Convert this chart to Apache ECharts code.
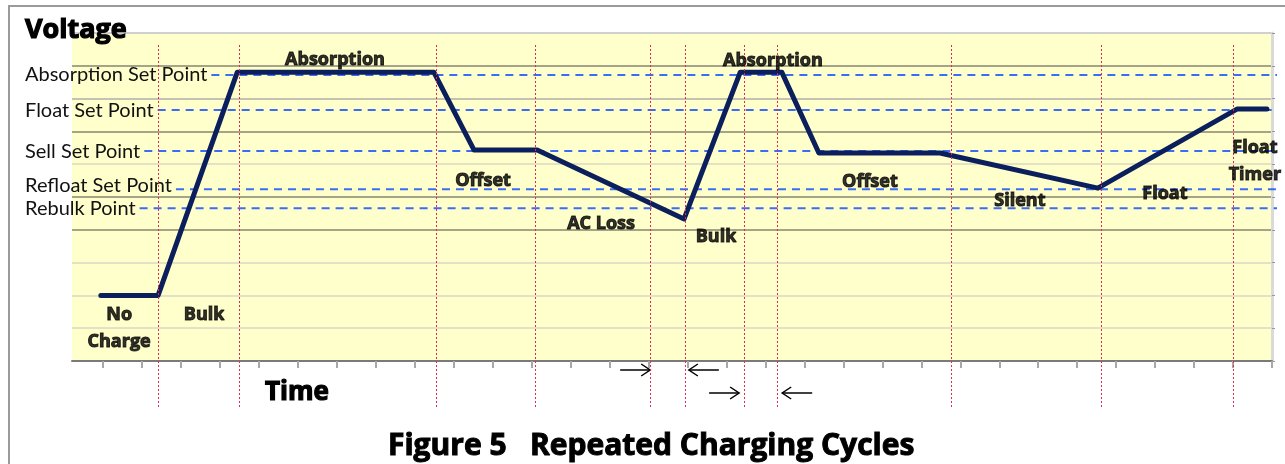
<!DOCTYPE html>
<html>
<head>
<meta charset="utf-8">
<script src="https://cdn.jsdelivr.net/npm/echarts@6/dist/echarts.min.js"></script>
<style>
  html, body { margin: 0; padding: 0; background: #fff; }
  #chart { width: 1285px; height: 464px; }
</style>
</head>
<body>
<div id="chart"></div>
<script>
// voltage trace: x in tick units, y in grid-line units
const timeX = [-0.06, 1.41, 3.44, 8.49, 9.52, 11.14, 14.91, 16.35, 17.42, 18.37, 21.48, 25.53, 29.10, 29.87]
const voltY = [2.0, 2.0, 8.8, 8.8, 6.43, 6.43, 4.33, 8.8, 8.8, 6.34, 6.34, 5.27, 7.68, 7.68]

const setPointNames = ['Absorption Set Point', 'Float Set Point', 'Sell Set Point', 'Refloat Set Point', 'Rebulk Point']
const setPointLevels = [8.72, 7.65, 6.40, 5.24, 4.66]

const phaseNames = ['No\nCharge', 'Bulk', 'Absorption', 'Offset', 'AC Loss', 'Bulk', 'Absorption', 'Offset', 'Silent', 'Float', 'Float\nTimer']
const phaseX = [0.41, 2.59, 5.95, 9.75, 12.78, 15.73, 17.19, 19.68, 23.53, 27.25, 29.56]
const phaseY = [0.98, 1.40, 9.18, 5.49, 4.18, 3.78, 9.15, 5.46, 4.88, 5.09, 6.10]

const markerTimes = [1.41, 3.49, 8.54, 11.08, 14.04, 14.93, 16.45, 17.30, 21.76, 25.61, 29.00]
const tickTimes = [0, 1, 2, 3, 4, 5, 6, 7, 8, 9, 10, 11, 12, 13, 14, 15, 16, 17, 18, 19, 20, 21, 22, 23, 24, 25, 26, 27, 28, 29, 30]

// [marker index, direction, row]
const arrowMarks = [[4, 1, 0], [5, -1, 0], [6, 1, 1], [7, -1, 1]]

const FONT = 'Lato, "Open Sans", sans-serif'
const BOLD_FONT = '"Open Sans", Lato, sans-serif'
const LABEL_SIZE = 20

const chart = echarts.init(document.getElementById('chart'), null, { renderer: 'canvas' })

const measureCtx = document.createElement('canvas').getContext('2d')
function textWidth(text, size) {
  measureCtx.font = size + 'px ' + FONT
  return measureCtx.measureText(text).width
}

const gridLineColors = ['#888', '#e4e2c6', '#e4e2c6', '#e4e2c6', '#a6a486', '#a6a486', '#e4e2c6', '#a6a486', '#c4c2b0', '#a6a486', '#cfcfcf']

const heavy = (size, stroke) => ({
  fontFamily: BOLD_FONT, fontSize: size, fontWeight: 'bold', color: '#000',
  textBorderColor: '#000', textBorderWidth: stroke,
})

const setPointSeries = setPointNames.map((name, i) => {
  const start = textWidth(name, LABEL_SIZE) + 4
  return {
    type: 'line',
    xAxisIndex: 1,
    yAxisIndex: 2,
    symbol: 'circle',
    symbolSize: 0,
    silent: true,
    z: 2,
    lineStyle: { color: '#3a6cf4', width: 2, type: [8, 6] },
    data: [
      {
        value: [start, setPointLevels[i]],
        label: {
          show: true,
          position: 'left',
          distance: 4,
          formatter: name,
          fontFamily: FONT,
          fontSize: LABEL_SIZE,
          color: '#111',
          offset: [0, i === 3 ? -4 : 0],
        },
      },
      { value: [1252, setPointLevels[i]] },
    ],
  }
})

chart.setOption({
  animation: false,
  backgroundColor: '#fff',
  title: [
    { text: 'Voltage', left: 25, top: 17, padding: 0, textStyle: heavy(27, 1.2) },
    { text: 'Time', left: 265, top: 380, padding: 0, textStyle: heavy(26, 1.2) },
    { text: 'Figure 5   Repeated Charging Cycles', left: 388, top: 431, padding: 0, textStyle: heavy(30, 1) },
  ],
  grid: [
    { left: 72, right: 13, top: 33, bottom: 103, show: true, backgroundColor: '#ffffcc', borderWidth: 0 },
    { left: 25, right: 8, top: 33, bottom: 103 },
    { left: 72, right: 13, top: 45, bottom: 57 },
  ],
  xAxis: [
    {
      gridIndex: 0, type: 'value', min: -0.8, max: 30,
      axisLine: { lineStyle: { color: '#7a7a7a', width: 2 } },
      axisTick: { show: true, customValues: tickTimes, length: 7, lineStyle: { color: '#a8a8a8', width: 2 } },
      axisLabel: { show: false },
      splitLine: { show: false },
    },
    { gridIndex: 1, type: 'value', min: 0, max: 1252, show: false },
    { gridIndex: 2, type: 'value', min: -0.8, max: 30, show: false },
  ],
  yAxis: [
    {
      gridIndex: 0, type: 'value', min: 0, max: 10, interval: 1,
      axisLine: { show: false }, axisTick: { show: false }, axisLabel: { show: false },
      splitLine: { show: true, lineStyle: { color: gridLineColors, width: 2 } },
    },
    {
      gridIndex: 0, type: 'value', position: 'right', min: 0, max: 10, interval: 1,
      axisLine: { show: true, lineStyle: { color: '#dadada', width: 3 } },
      axisTick: { show: true, length: 3, lineStyle: { color: '#999' } },
      axisLabel: { show: false }, splitLine: { show: false },
    },
    { gridIndex: 1, type: 'value', min: 0, max: 10, show: false },
    { gridIndex: 2, type: 'value', min: 0, max: 1, show: false },
  ],
  series: [
    ...setPointSeries,
    {
      type: 'line',
      xAxisIndex: 2,
      yAxisIndex: 3,
      data: [],
      silent: true,
      z: 4,
      markLine: {
        silent: true,
        symbol: 'none',
        label: { show: false },
        lineStyle: { color: '#ec2452', width: 1, type: [2, 2] },
        data: markerTimes.map(v => ({ xAxis: v })),
      },
    },
    {
      type: 'line',
      xAxisIndex: 0,
      yAxisIndex: 0,
      data: timeX.map((x, i) => [x, voltY[i]]),
      showSymbol: false,
      symbol: 'none',
      z: 3,
      lineStyle: { color: '#0b1f5c', width: 5, cap: 'round', join: 'round' },
    },
    {
      type: 'scatter',
      xAxisIndex: 0,
      yAxisIndex: 0,
      symbolSize: 0,
      silent: true,
      z: 6,
      data: phaseNames.map((n, i) => ({ name: n, value: [phaseX[i], phaseY[i]] })),
      label: {
        show: true,
        position: 'inside',
        formatter: p => p.name,
        ...heavy(18, 1),
        lineHeight: 27,
        align: 'center',
        verticalAlign: 'middle',
      },
    },
  ],
})

// frame and the dimension arrows under the axis
const graphics = [
  { type: 'rect', shape: { x: 9, y: 6, width: 1400, height: 600 }, style: { fill: null, stroke: '#9a9a9a', lineWidth: 2 }, z: 10 },
]
const arrowGap = [0, 4, 5, 5]
arrowMarks.forEach(([mi, dir, row], k) => {
  const px = chart.convertToPixel({ xAxisIndex: 0 }, markerTimes[mi])
  const y = 370 + row * 23
  const head = px - dir * arrowGap[k]
  const tail = head - dir * 30
  graphics.push({
    type: 'group',
    children: [
      { type: 'line', shape: { x1: tail, y1: y, x2: head, y2: y }, style: { stroke: '#000', lineWidth: 1.5 } },
      { type: 'polyline', shape: { points: [[head - dir * 9, y - 6], [head, y], [head - dir * 9, y + 6]] }, style: { stroke: '#000', fill: null, lineWidth: 1.5 } },
    ],
  })
})
chart.setOption({ graphic: graphics })
</script>
</body>
</html>
